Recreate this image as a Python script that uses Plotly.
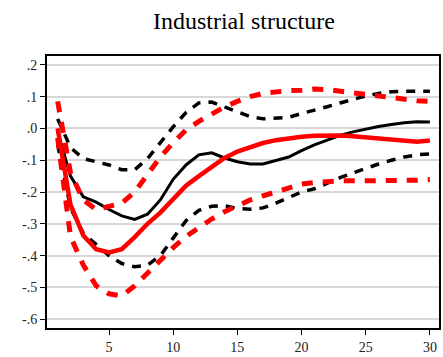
import plotly.graph_objects as go

# Impulse response horizon
periods = list(range(1, 31))

# Black: point estimate with lower / upper bands
black_mid = [-0.01, -0.15, -0.215, -0.232, -0.255, -0.275, -0.286, -0.27, -0.225, -0.16,
             -0.115, -0.083, -0.077, -0.093, -0.105, -0.112, -0.112, -0.1, -0.09, -0.07,
             -0.052, -0.037, -0.022, -0.011, -0.002, 0.006, 0.012, 0.018, 0.021, 0.02]
black_up = [0.03, -0.06, -0.095, -0.105, -0.115, -0.13, -0.13, -0.095, -0.045, 0.005,
            0.05, 0.08, 0.083, 0.068, 0.052, 0.037, 0.03, 0.032, 0.035, 0.047,
            0.057, 0.068, 0.08, 0.092, 0.102, 0.11, 0.115, 0.117, 0.117, 0.117]
black_lo = [-0.05, -0.25, -0.33, -0.365, -0.4, -0.425, -0.435, -0.43, -0.4, -0.345,
            -0.29, -0.258, -0.245, -0.243, -0.252, -0.254, -0.25, -0.235, -0.218, -0.2,
            -0.19, -0.172, -0.155, -0.14, -0.125, -0.112, -0.1, -0.09, -0.083, -0.08]

# Red: point estimate with lower / upper bands
red_mid = [0.0, -0.24, -0.337, -0.38, -0.39, -0.38, -0.342, -0.3, -0.265, -0.22,
           -0.18, -0.15, -0.12, -0.093, -0.073, -0.058, -0.046, -0.037, -0.03, -0.026,
           -0.023, -0.022, -0.022, -0.025, -0.028, -0.031, -0.035, -0.04, -0.042, -0.038]
red_up = [0.085, -0.14, -0.225, -0.255, -0.245, -0.235, -0.2, -0.145, -0.09, -0.045,
          -0.005, 0.022, 0.045, 0.068, 0.085, 0.1, 0.11, 0.116, 0.119, 0.12,
          0.124, 0.122, 0.117, 0.112, 0.105, 0.099, 0.094, 0.09, 0.087, 0.085]
red_lo = [-0.03, -0.34, -0.43, -0.495, -0.52, -0.527, -0.495, -0.455, -0.41, -0.375,
          -0.34, -0.312, -0.285, -0.262, -0.242, -0.225, -0.212, -0.199, -0.185, -0.175,
          -0.17, -0.167, -0.165, -0.165, -0.165, -0.165, -0.165, -0.165, -0.163, -0.161]

y_ticks = [0.2, 0.1, 0.0, -0.1, -0.2, -0.3, -0.4, -0.5, -0.6]
y_tick_text = [".2", ".1", ".0", "-.1", "-.2", "-.3", "-.4", "-.5", "-.6"]
x_ticks = [5, 10, 15, 20, 25, 30]

SERIF = "Liberation Serif, Times New Roman, serif"

fig = go.Figure()

series = [
    (black_up, "black", 3.5, "9px,8px"),
    (black_lo, "black", 3.5, "9px,8px"),
    (black_mid, "black", 3, "solid"),
    (red_up, "#ff0000", 5, "11px,10px"),
    (red_lo, "#ff0000", 5, "11px,10px"),
    (red_mid, "#ff0000", 4.5, "solid"),
]
for ys, color, width, dash in series:
    fig.add_trace(go.Scatter(
        x=periods, y=ys, mode="lines",
        line=dict(color=color, width=width, dash=dash),
        showlegend=False, hoverinfo="skip",
    ))

fig.update_layout(
    width=443, height=357,
    margin=dict(l=47, r=2, t=56, b=23),
    paper_bgcolor="white", plot_bgcolor="white",
    title=dict(text="Industrial structure", x=0.5506, xanchor="center",
               xref="container", yref="container",
               y=0.942, yanchor="middle",
               font=dict(family=SERIF, size=24, color="black")),
    font=dict(family=SERIF, size=14, color="#222222"),
)

fig.update_xaxes(
    range=[0.17, 30.71], tickvals=x_ticks,
    showgrid=False, zeroline=False,
    showline=True, linecolor="black", linewidth=2, mirror=True,
    ticks="outside", ticklen=5, tickwidth=1.2, tickcolor="black",
    tickfont=dict(family=SERIF, size=14, color="#222222"),
)
fig.update_yaxes(
    range=[-0.6277, 0.2277], tickvals=y_ticks, ticktext=y_tick_text,
    showgrid=True, gridcolor="#d8d8d8", gridwidth=1.5, zeroline=False,
    showline=True, linecolor="black", linewidth=2, mirror=True,
    ticks="outside", ticklen=5, tickwidth=1.2, tickcolor="black",
    tickfont=dict(family=SERIF, size=14, color="#222222"),
)

fig.write_html("out.html")
